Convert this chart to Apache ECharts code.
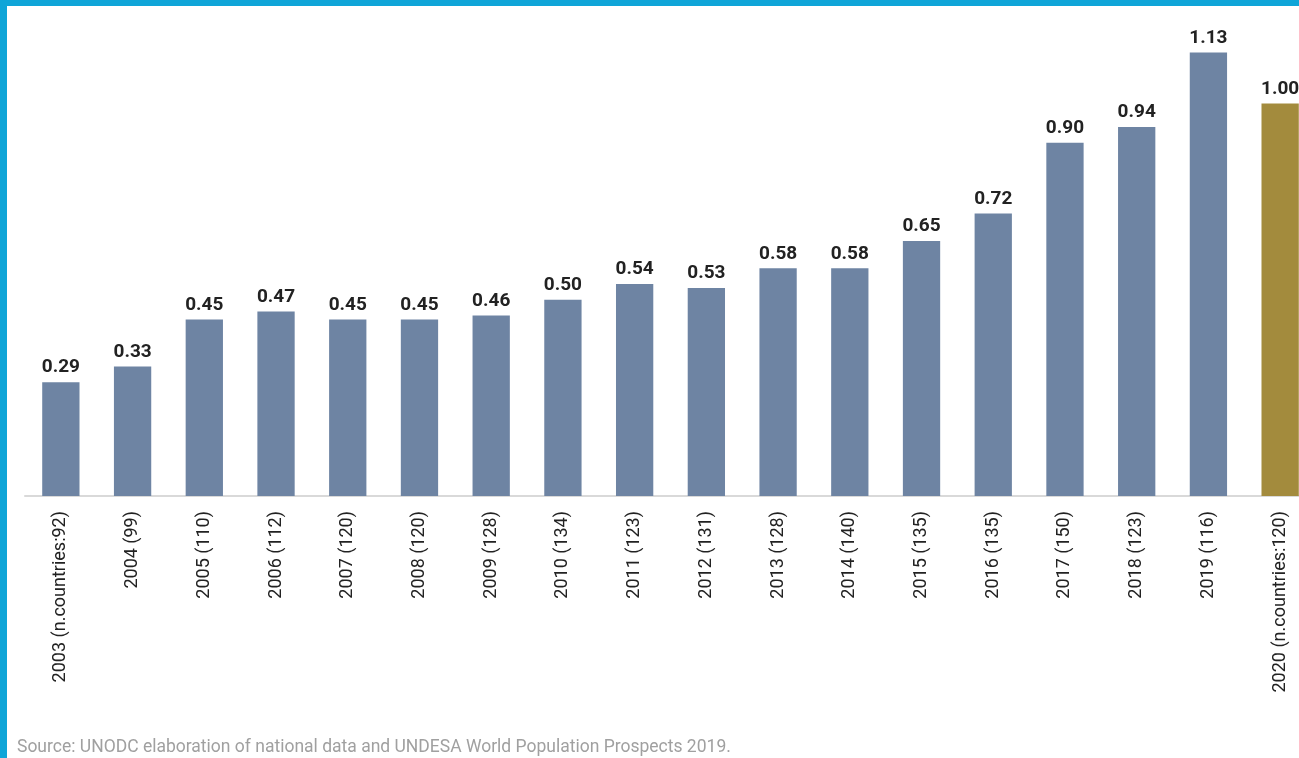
<!DOCTYPE html>
<html>
<head>
<meta charset="utf-8" />
<title>Chart</title>
<script src="https://cdn.jsdelivr.net/npm/echarts@6/dist/echarts.min.js"></script>
<style>
  html, body { margin: 0; padding: 0; overflow: hidden; background: #fff; width: 1299px; height: 758px; }
  #chart { position: absolute; left: 0; top: 0; width: 1316px; height: 758px; }
  .edge { position: absolute; background: #0fa5d8; }
</style>
</head>
<body>
<div id="chart"></div>
<div class="edge" style="left:0;top:0;width:1299px;height:6px"></div>
<div class="edge" style="left:0;top:0;width:7px;height:758px"></div>
<script>
var years = ['2003 (n.countries:92)', '2004 (99)', '2005 (110)', '2006 (112)', '2007 (120)', '2008 (120)',
    '2009 (128)', '2010 (134)', '2011 (123)', '2012 (131)', '2013 (128)', '2014 (140)', '2015 (135)',
    '2016 (135)', '2017 (150)', '2018 (123)', '2019 (116)', '2020 (n.countries:120)'];
var rates = [0.29, 0.33, 0.45, 0.47, 0.45, 0.45, 0.46, 0.50, 0.54, 0.53, 0.58, 0.58, 0.65, 0.72, 0.90, 0.94, 1.13, 1.00];
var sourceNote = 'Source: UNODC elaboration of national data and UNDESA World Population Prospects 2019.';

var font = 'Roboto, sans-serif';
var chart = echarts.init(document.getElementById('chart'));
chart.setOption({
    animation: false,
    title: {
        text: sourceNote,
        left: 17,
        bottom: 1,
        padding: 0,
        textStyle: { color: '#a0a0a0', fontSize: 17.5, fontWeight: 'normal', fontFamily: font }
    },
    grid: { left: 25, right: 0, top: 25, bottom: 262 },
    xAxis: {
        type: 'category',
        data: years,
        axisLine: { lineStyle: { color: '#d9d9d9', width: 2 } },
        axisTick: { show: false },
        axisLabel: { rotate: 90, interval: 0, margin: 15, color: '#222', fontSize: 18, fontFamily: font }
    },
    yAxis: {
        type: 'value',
        min: 0,
        max: 1.2,
        show: false
    },
    series: [{
        type: 'bar',
        barWidth: '52%',
        data: rates.map(function (v, i) {
            return {
                value: v,
                itemStyle: { color: i === rates.length - 1 ? '#a38b3d' : '#6e84a3' }
            };
        }),
        label: {
            show: true,
            position: 'top',
            distance: 5,
            color: '#222',
            fontSize: 19,
            fontWeight: 'bold',
            fontFamily: font,
            formatter: function (p) { return p.value.toFixed(2); }
        }
    }]
});
</script>
</body>
</html>
